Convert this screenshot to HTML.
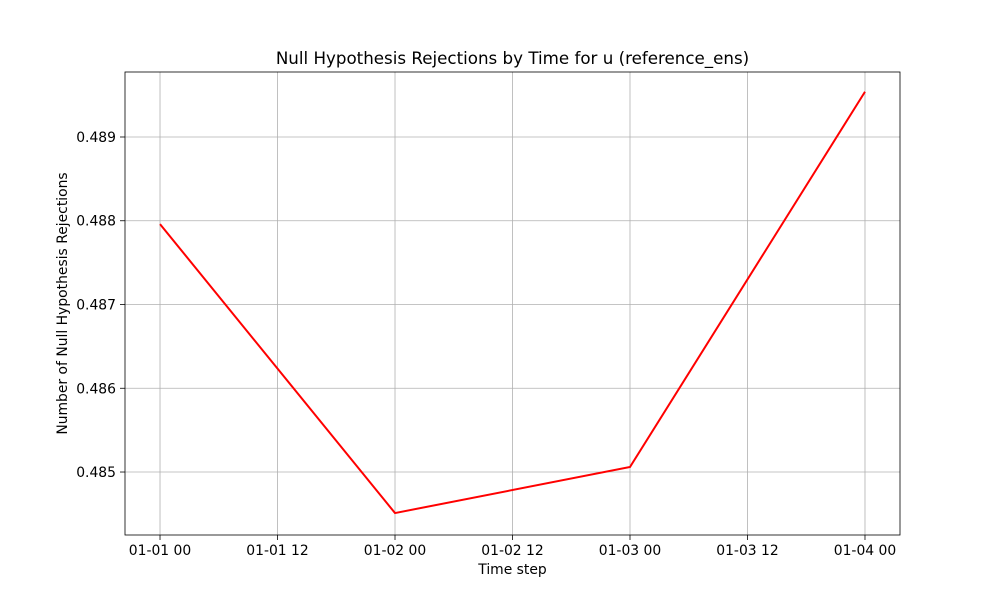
<!DOCTYPE html>
<html><head><meta charset="utf-8"><style>
body{margin:0;background:#fff;}
svg{display:block;font-family:"DejaVu Sans","Liberation Sans",sans-serif;}
</style></head><body>
<svg id="chart" width="1000" height="600"></svg>
<script>
const categories = ["01-01 00","01-02 00","01-03 00","01-04 00"];
const catDays = [0,1,2,3];
const values = [0.48796,0.48451,0.48506,0.48954];
const xTickLabels = ["01-01 00","01-01 12","01-02 00","01-02 12","01-03 00","01-03 12","01-04 00"];
const xTickDays = [0,0.5,1,1.5,2,2.5,3];
const yTicks = [0.485,0.486,0.487,0.488,0.489];

const L=125,R=900,T=72,B=535;
const xMin=-0.149,xMax=3.149,yMin=0.484248,yMax=0.489776;
const xs=d=>L+(d-xMin)/(xMax-xMin)*(R-L);
const ys=v=>B-(v-yMin)/(yMax-yMin)*(B-T);
const NS="http://www.w3.org/2000/svg";
const svg=document.getElementById('chart');
function mk(tag,attrs,parent){const e=document.createElementNS(NS,tag);for(const k in attrs)e.setAttribute(k,attrs[k]);(parent||svg).appendChild(e);return e;}

const grid=mk('g',{});


xTickDays.forEach((d,i)=>{
  const x=xs(d);
  const gl=mk('line',{x1:x,x2:x,y1:T,y2:B,stroke:'#b0b0b0','stroke-width':0.8},grid);
  
  
  mk('line',{x1:x,x2:x,y1:B,y2:B+5,stroke:'#000','stroke-width':0.8});
  const t=mk('text',{x:x,y:B+20,'text-anchor':'middle','font-size':13.9,fill:'#000'});
  t.textContent=xTickLabels[i];
  
  
});
yTicks.forEach(v=>{
  const y=ys(v);
  const gl=mk('line',{x1:L,x2:R,y1:y,y2:y,stroke:'#b0b0b0','stroke-width':0.8},grid);
  
  
  mk('line',{x1:L-5,x2:L,y1:y,y2:y,stroke:'#000','stroke-width':0.8});
  const t=mk('text',{x:L-9,y:y+5,'text-anchor':'end','font-size':13.9,fill:'#000'});
  t.textContent=v.toFixed(3);
  
  
});
const pts=values.map((v,i)=>xs(catDays[i])+','+ys(v)).join(' ');
const line=mk('polyline',{points:pts,fill:'none',stroke:'#ff0000','stroke-width':2});


const frame=mk('rect',{x:L,y:T,width:R-L,height:B-T,fill:'none',stroke:'#000','stroke-width':0.8});


const title=mk('text',{x:(L+R)/2,y:64,'text-anchor':'middle','font-size':16.7,fill:'#000'});
title.textContent='Null Hypothesis Rejections by Time for u (reference_ens)';


const xl=mk('text',{x:(L+R)/2,y:574,'text-anchor':'middle','font-size':13.9,fill:'#000'});
xl.textContent='Time step';


const yl=mk('text',{x:0,y:0,'text-anchor':'middle','font-size':13.9,fill:'#000',transform:'translate(67,'+((T+B)/2)+') rotate(-90)'});
yl.textContent='Number of Null Hypothesis Rejections';


</script>
</body></html>
